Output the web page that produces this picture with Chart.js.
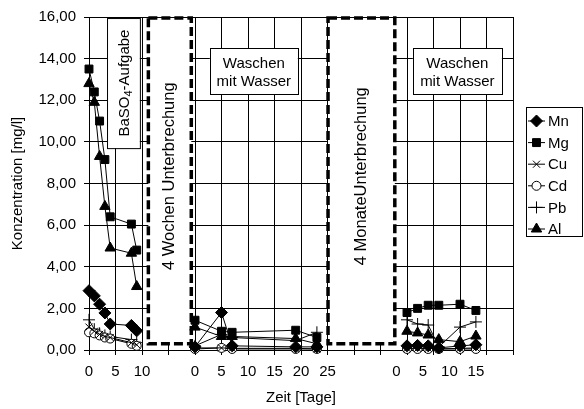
<!DOCTYPE html>
<html>
<head>
<meta charset="utf-8">
<script src="https://cdn.jsdelivr.net/npm/chart.js"></script>
<style>html,body{margin:0;padding:0;background:#fff}</style>
</head>
<body>
<canvas id="chart" width="584" height="409"></canvas>
<script>
// Three test phases drawn on one axis, each with its own day counter
const seriesNames = ['Mn', 'Mg', 'Cu', 'Cd', 'Pb', 'Al'];
const phase1Days = [0, 1, 2, 3, 4, 8, 9];
const phase2Days = [0, 5, 7, 19, 23];
const phase3Days = [2, 4, 6, 8, 12, 15];
const phaseOffsets = [0, 20, 58];   // where each phase's day 0 sits on the shared axis

const mn1 = [2.85, 2.6, 2.2, 1.78, 1.25, 1.18, 0.92];
const mn2 = [0.15, 1.8, 0.2, 0.15, 0.15];
const mn3 = [0.2, 0.22, 0.2, 0.1, 0.2, 0.25];
const mg1 = [13.5, 12.4, 11.0, 9.15, 6.4, 6.05, 4.8];
const mg2 = [1.43, 0.9, 0.85, 0.95, 0.6];
const mg3 = [1.8, 2.0, 2.15, 2.15, 2.2, 1.9];
const cu1 = [1.1, 0.9, 0.75, 0.65, 0.6, 0.35, 0.25];
const cu2 = [0.1, 0.1, 0.08, 0.08, 0.05];
const cu3 = [0.08, 0.08, 0.08, 0.05, 0.08, 0.1];
const cd1 = [0.85, 0.8, 0.7, 0.6, 0.55, 0.3, 0.2];
const cd2 = [0.05, 0.1, 0.05, 0.05, 0.05];
const cd3 = [0.05, 0.05, 0.05, 0.05, 0.05, 0.05];
const pb1 = [1.45, 1.0, 0.8, 0.7, 0.65, 0.5, 0.35];
const pb2 = [0.2, 0.75, 0.6, 0.45, 0.85];
const pb3 = [1.45, 1.25, 1.2, 0.15, 1.1, 1.35];
const al1 = [12.8, 11.9, 9.3, 6.9, 4.9, 4.65, 3.05];
const al2 = [1.1, 0.65, 0.65, 0.55, 0.3];
const al3 = [0.9, 0.82, 0.72, 0.5, 0.4, 0.67];

const yTicks = [0, 2, 4, 6, 8, 10, 12, 14, 16];
// axis value -> printed day label ('' = unlabeled grid line)
const xTickLabels = {0: '0', 5: '5', 10: '10', 20: '0', 25: '5', 30: '10', 35: '15', 40: '20', 45: '25',
                     58: '0', 63: '5', 68: '10', 73: '15'};
const labelOnlyTicks = [58, 63, 68, 73];

const FONT = 'Arial, "Liberation Sans", sans-serif';

function phases(a, b, c) {
    const pts = [];
    [[phase1Days, a], [phase2Days, b], [phase3Days, c]].forEach(([days, vals], i) => {
        days.forEach((d, j) => pts.push({ x: phaseOffsets[i] + d, y: vals[j] }));
        pts.push({ x: phaseOffsets[i] + days[days.length - 1] + 0.5, y: null });
    });
    return pts;
}

const markers = {
    Mn: { pointStyle: 'rectRot', radius: 6, fill: '#000' },
    Mg: { pointStyle: 'rect', radius: 5.6, fill: '#000' },
    Cu: { pointStyle: 'crossRot', radius: 5, fill: '#000' },
    Cd: { pointStyle: 'circle', radius: 4.5, fill: '#fff' },
    Pb: { pointStyle: 'cross', radius: 6, fill: '#000' },
    Al: { pointStyle: 'triangle', radius: 6, fill: '#000' }
};

const values = { Mn: [mn1, mn2, mn3], Mg: [mg1, mg2, mg3], Cu: [cu1, cu2, cu3],
                 Cd: [cd1, cd2, cd3], Pb: [pb1, pb2, pb3], Al: [al1, al2, al3] };

// dashed "pause" frames and the text boxes, in axis units
const pauses = [
    { x0: 11.2, x1: 19.3, text: '4 Wochen Unterbrechung' },
    { x0: 45.1, x1: 57.7, text: '4 MonateUnterbrechung' }
];
const washBoxes = [{ x0: 22.8, x1: 39.4 }, { x0: 61.1, x1: 77.9 }];

const annotations = {
    id: 'annotations',
    beforeDatasetsDraw(chart) {
        const { ctx, scales: { x, y } } = chart;
        ctx.save();
        // pause frames
        pauses.forEach(p => {
            const l = x.getPixelForValue(p.x0), r = x.getPixelForValue(p.x1);
            const t = y.getPixelForValue(15.95), b = y.getPixelForValue(0.3);
            ctx.fillStyle = '#fff';
            ctx.fillRect(l, t, r - l, b - t);
            ctx.setLineDash([9, 4]);
            ctx.lineWidth = 3.5;
            ctx.strokeStyle = '#000';
            ctx.strokeRect(l, t, r - l, b - t);
            ctx.setLineDash([]);
            ctx.save();
            ctx.translate((l + r) / 2, y.getPixelForValue(8.35));
            ctx.rotate(-Math.PI / 2);
            ctx.fillStyle = '#000';
            ctx.font = '16.5px ' + FONT;
            ctx.textAlign = 'center';
            ctx.textBaseline = 'middle';
            ctx.fillText(p.text, 0, 0);
            ctx.restore();
        });

        // BaSO4 box
        let l = x.getPixelForValue(3.4), r = x.getPixelForValue(9.6);
        let t = y.getPixelForValue(15.95), b = y.getPixelForValue(9.7);
        ctx.fillStyle = '#fff';
        ctx.fillRect(l, t, r - l, b - t);
        ctx.lineWidth = 1;
        ctx.strokeStyle = '#000';
        ctx.strokeRect(l + 0.5, t + 0.5, r - l, b - t);
        ctx.save();
        ctx.translate((l + r) / 2 + 1, (t + b) / 2);
        ctx.rotate(-Math.PI / 2);
        ctx.fillStyle = '#000';
        ctx.textBaseline = 'middle';
        const big = '15px ' + FONT, small = '11px ' + FONT;
        ctx.font = big;
        const w1 = ctx.measureText('BaSO').width, w3 = ctx.measureText('-Aufgabe').width;
        ctx.font = small;
        const w2 = ctx.measureText('4').width;
        let sx = -(w1 + w2 + w3) / 2;
        ctx.font = big; ctx.fillText('BaSO', sx, 0); sx += w1;
        ctx.font = small; ctx.fillText('4', sx, 5); sx += w2;
        ctx.font = big; ctx.fillText('-Aufgabe', sx, 0);
        ctx.restore();

        // washing boxes
        washBoxes.forEach(bx => {
            const l = x.getPixelForValue(bx.x0), r = x.getPixelForValue(bx.x1);
            const t = y.getPixelForValue(14.5), b = y.getPixelForValue(12.27);
            ctx.fillStyle = '#fff';
            ctx.fillRect(l, t, r - l, b - t);
            ctx.strokeRect(Math.round(l) + 0.5, Math.round(t) + 0.5, Math.round(r - l), Math.round(b - t));
            ctx.fillStyle = '#000';
            ctx.font = '15px ' + FONT;
            ctx.textAlign = 'center';
            ctx.textBaseline = 'middle';
            ctx.fillText('Waschen', (l + r) / 2, t + 16);
            ctx.fillText('mit Wasser', (l + r) / 2, t + 34);
        });
        ctx.restore();
    },
    afterDraw(chart) {
        // legend with line + marker samples
        const { ctx, chartArea } = chart;
        const left = chartArea.right + 13, top = 107, w = 56, h = 129;
        ctx.save();
        ctx.fillStyle = '#fff';
        ctx.fillRect(left, top, w, h);
        ctx.strokeStyle = '#000';
        ctx.lineWidth = 1;
        ctx.strokeRect(left + 0.5, top + 0.5, w, h);
        seriesNames.forEach((name, i) => {
            const cy = top + 14 + i * 21.6;
            ctx.beginPath();
            ctx.moveTo(left + 2, cy);
            ctx.lineTo(left + 19, cy);
            ctx.strokeStyle = '#000';
            ctx.lineWidth = 1;
            ctx.stroke();
            const m = markers[name];
            ctx.fillStyle = m.fill;
            Chart.helpers.drawPoint(ctx, { pointStyle: m.pointStyle, radius: m.radius, rotation: 0, borderWidth: 1 }, left + 10.5, cy);
            ctx.fillStyle = '#000';
            ctx.font = '15px ' + FONT;
            ctx.textAlign = 'left';
            ctx.textBaseline = 'middle';
            ctx.fillText(name, left + 22, cy + 1);
        });
        ctx.restore();
    }
};

const datasets = seriesNames.map(name => ({
    label: name,
    data: phases(...values[name]),
    borderColor: '#000',
    borderWidth: 1,
    backgroundColor: markers[name].fill,
    pointBackgroundColor: markers[name].fill,
    pointBorderColor: '#000',
    pointBorderWidth: 1,
    pointStyle: markers[name].pointStyle,
    pointRadius: markers[name].radius,
    tension: 0,
    spanGaps: false,
    clip: false
}));

new Chart(document.getElementById('chart'), {
    type: 'line',
    data: { datasets },
    plugins: [annotations],
    options: {
        responsive: false,
        animation: false,
        layout: { padding: { left: 0, top: 15, right: 71, bottom: 0 } },
        plugins: { legend: { display: false }, tooltip: { enabled: false } },
        scales: {
            x: {
                type: 'linear',
                min: 0,
                max: 80,
                afterBuildTicks: (scale) => {
                    const vals = [];
                    for (let v = 0; v <= 80; v += 5) vals.push(v);
                    scale.ticks = vals.concat(labelOnlyTicks).sort((a, b) => a - b).map(v => ({ value: v }));
                },
                afterFit: (scale) => { scale.height = 59; },
                grid: {
                    color: (c) => labelOnlyTicks.includes(c.tick && c.tick.value) ? 'rgba(0,0,0,0)' : '#000',
                    tickColor: (c) => labelOnlyTicks.includes(c.tick && c.tick.value) ? 'rgba(0,0,0,0)' : '#000',
                    tickLength: 5,
                    lineWidth: 1
                },
                border: { color: '#000', width: 1 },
                ticks: {
                    autoSkip: false,
                    maxRotation: 0,
                    padding: 8,
                    color: '#000',
                    font: { family: FONT, size: 15 },
                    callback: (v) => xTickLabels[v] !== undefined ? xTickLabels[v] : ''
                },
                title: {
                    display: true,
                    text: 'Zeit [Tage]',
                    color: '#000',
                    font: { family: FONT, size: 15 },
                    padding: { top: 0, bottom: 2 }
                }
            },
            y: {
                min: 0,
                max: 16,
                afterBuildTicks: (scale) => { scale.ticks = yTicks.map(v => ({ value: v })); },
                afterFit: (scale) => { scale.width = 89; },
                grid: { color: '#000', tickColor: '#000', tickLength: 5, lineWidth: 1 },
                border: { color: '#000', width: 1 },
                ticks: {
                    padding: 8,
                    color: '#000',
                    font: { family: FONT, size: 15 },
                    callback: (v) => v.toFixed(2).replace('.', ',')
                },
                title: {
                    display: true,
                    text: 'Konzentration [mg/l]',
                    color: '#000',
                    font: { family: FONT, size: 15 },
                    padding: { top: 9, bottom: 0 }
                }
            }
        }
    }
});
</script>
</body>
</html>
